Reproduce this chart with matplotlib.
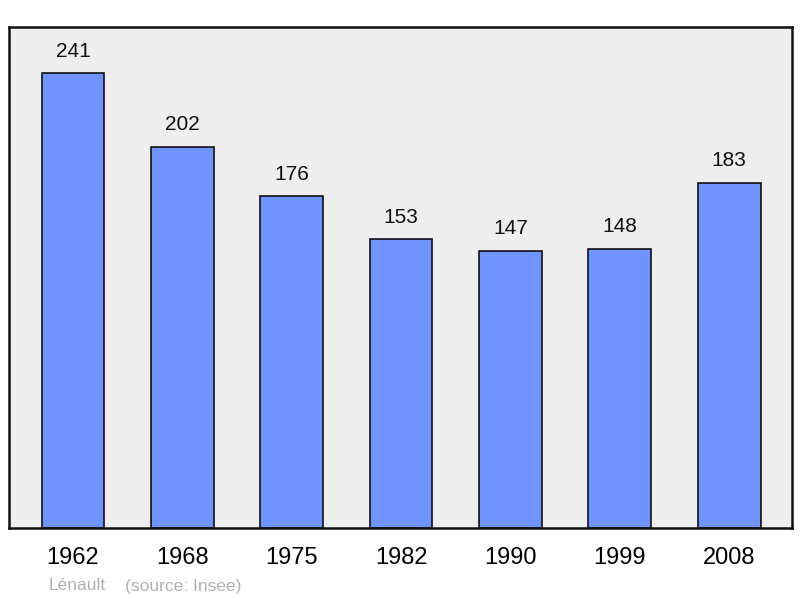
import matplotlib.pyplot as plt
import numpy as np

plt.rcParams["font.family"] = ["Liberation Sans", "DejaVu Sans"]

years = ["1962", "1968", "1975", "1982", "1990", "1999", "2008"]
population = [241, 202, 176, 153, 147, 148, 183]

fig = plt.figure(figsize=(8, 5.98), dpi=100)
ax = fig.add_axes([0.01125, 0.117, 0.97875, 0.8378])
ax.set_facecolor("#eeeeee")

x = np.arange(len(years))
bars = ax.bar(x, population, width=0.575, color="#7094ff", edgecolor="#111111",
              linewidth=1.2, zorder=2)

for xi, v in zip(x, population):
    ax.text(xi, v + 6.5, str(v), ha="center", va="bottom", fontsize=15, color="#111111")

ax.set_xlim(-0.585, 6.575)
ax.set_ylim(0, 265.4)
ax.set_yticks([])
ax.set_xticks(x)
ax.set_xticklabels(years, fontsize=17)
ax.tick_params(axis="x", length=0, pad=14)
for s in ax.spines.values():
    s.set_linewidth(1.8)
    s.set_color("#111111")

fig.text(49 / 800, 1 - 586 / 598, "Lénault", fontsize=12.5, color="#b0b0b0", va="center")
fig.text(125 / 800, 1 - 586 / 598, "(source: Insee)", fontsize=12.5, color="#b0b0b0", va="center")

fig.savefig("out.png", dpi=100)
